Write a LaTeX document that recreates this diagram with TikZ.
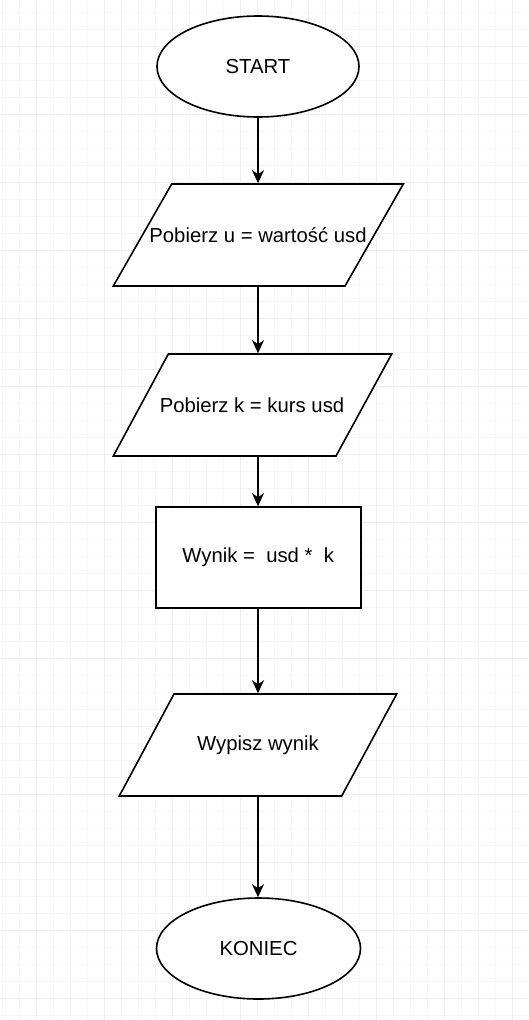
\documentclass[tikz,border=0pt]{standalone}
\usepackage{fontspec}
\setmainfont{Liberation Sans}
\usetikzlibrary{shapes.geometric,arrows.meta}
\begin{document}
\begin{tikzpicture}[x=1pt,y=-1pt,
  every node/.style={font=\fontsize{20.3}{24}\selectfont, inner sep=0pt},
  shp/.style={draw=black, line width=1.6pt, fill=white, line join=miter},
  term/.style={shp, ellipse, minimum width=202pt, minimum height=101pt},
  proc/.style={shp, rectangle, minimum width=205pt, minimum height=101pt},
  io/.style={rectangle, minimum width=170pt, minimum height=102pt, outer sep=0.8pt},
  arr/.style={line width=2pt, -{Stealth[length=13pt,width=12pt,inset=4pt]}},
  gminor/.style={draw=gray!7, line width=1pt},
  gmajor/.style={draw=gray!13, line width=1pt}]
\fill[white] (0,0) rectangle (528,1020);
\useasboundingbox (0,0) rectangle (528,1020);
\foreach \i in {0,...,30} {\draw[gminor] ({2.3+17*\i},0) -- ({2.3+17*\i},1020);}
\foreach \i in {0,...,59} {\draw[gminor] (0,{12.7+17*\i}) -- (528,{12.7+17*\i});}
\foreach \i in {0,...,7} {\draw[gmajor] ({36.3+68*\i},0) -- ({36.3+68*\i},1020);}
\foreach \i in {0,...,14} {\draw[gmajor] (0,{46.7+68*\i}) -- (528,{46.7+68*\i});}

\node[term] (start) at (258,66.5) {START};

\draw[shp] (171.7,184) -- (403.3,184) -- (345,286) -- (113.3,286) -- cycle;
\node[io] (p1) at (258,235) {Pobierz u = wartość usd};

\draw[shp] (168.3,354) -- (391.7,354) -- (336,456) -- (113.3,456) -- cycle;
\node[io] (p2) at (252,405) {Pobierz k = kurs usd};

\node[proc] (calc) at (258.2,557.5) {Wynik = \ usd * \ k};

\draw[shp] (174,694) -- (396.7,694) -- (341.7,796) -- (119.3,796) -- cycle;
\node[io] (p3) at (258,745) {Wypisz wynik};

\node[term, minimum width=204pt] (stop) at (258.5,948.5) {KONIEC};

\draw[arr] (start.south) -- (p1.north);
\draw[arr] (p1.south) -- (p1.south |- p2.north);
\draw[arr] (p1.south |- p2.south) -- (p1.south |- calc.north);
\draw[arr] (p1.south |- calc.south) -- (p3.north);
\draw[arr] (p3.south) -- (p3.south |- stop.north);
\end{tikzpicture}
\end{document}
